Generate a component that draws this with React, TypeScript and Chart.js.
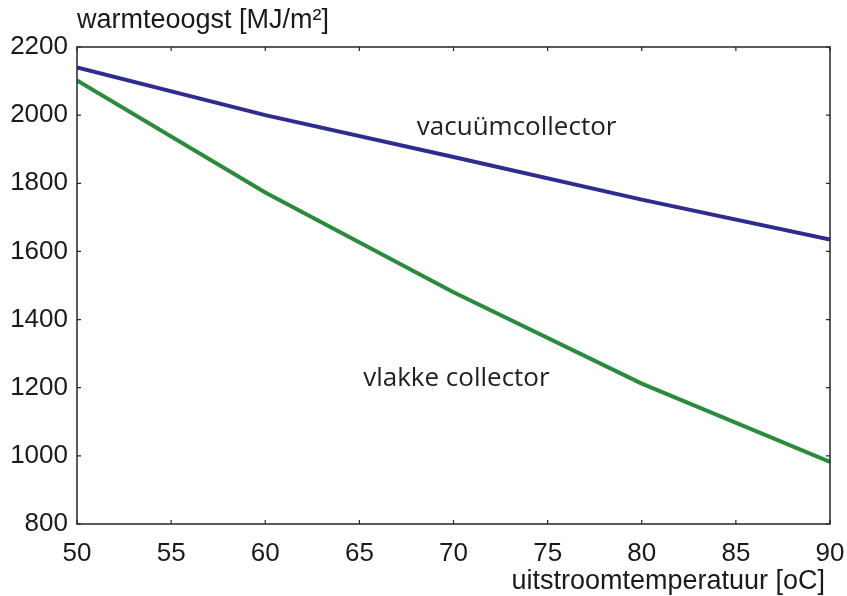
import React, { useEffect, useRef } from "react";
import { Chart, registerables } from "chart.js";

Chart.register(...registerables);

const temperatures = [50, 60, 70, 80, 90];
const vacuumValues = [2140, 2000, 1877, 1752, 1635];
const flatValues = [2102, 1773, 1480, 1212, 982];
const xTicks = [50, 55, 60, 65, 70, 75, 80, 85, 90];
const yTicks = [800, 1000, 1200, 1400, 1600, 1800, 2000, 2200];
const yTitle = "warmteoogst [MJ/m²]";
const xTitle = "uitstroomtemperatuur [oC]";
const seriesLabels = ["vacuümcollector", "vlakke collector"];
const labelAnchors = [
  { x: 68.05, y: 1942 },
  { x: 65.2, y: 1204 },
];

const boxPlugin = {
  id: "boxPlugin",
  afterDraw(chart: any) {
    const { ctx, chartArea } = chart;
    const { left, right, top, bottom } = chartArea;
    const xs = chart.scales.x;
    const ys = chart.scales.y;
    ctx.save();
    ctx.strokeStyle = "#262626";
    ctx.lineWidth = 1.5;
    ctx.strokeRect(left, top, right - left, bottom - top);
    ctx.lineWidth = 1.2;
    const tl = 4;
    ctx.beginPath();
    xTicks.forEach((v) => {
      const px = xs.getPixelForValue(v);
      ctx.moveTo(px, bottom);
      ctx.lineTo(px, bottom - tl);
      ctx.moveTo(px, top);
      ctx.lineTo(px, top + tl);
    });
    yTicks.forEach((v) => {
      const py = ys.getPixelForValue(v);
      ctx.moveTo(left, py);
      ctx.lineTo(left + tl, py);
      ctx.moveTo(right, py);
      ctx.lineTo(right - tl, py);
    });
    ctx.stroke();

    ctx.fillStyle = "#1a1a1a";
    ctx.font = '27px "Liberation Sans", Arial, sans-serif';
    ctx.textBaseline = "alphabetic";
    ctx.textAlign = "left";
    ctx.fillText(yTitle, left, top - 19);
    ctx.textAlign = "right";
    ctx.fillText(xTitle, right - 5, bottom + 65);

    ctx.font = '26px "Open Sans", "Noto Sans", sans-serif';
    ctx.textAlign = "left";
    ctx.fillStyle = "#222222";
    seriesLabels.forEach((t, i) => {
      const a = labelAnchors[i];
      ctx.fillText(t, xs.getPixelForValue(a.x), ys.getPixelForValue(a.y));
    });
    ctx.restore();
  },
};

export default function App() {
  const ref = useRef<HTMLCanvasElement>(null);
  useEffect(() => {
    if (!ref.current) return;
    const chart = new Chart(ref.current, {
      type: "line",
      data: {
        datasets: [
          {
            label: seriesLabels[0],
            data: temperatures.map((t, i) => ({ x: t, y: vacuumValues[i] })),
            borderColor: "#302B8F",
            borderWidth: 4,
            pointRadius: 0,
            tension: 0,
          },
          {
            label: seriesLabels[1],
            data: temperatures.map((t, i) => ({ x: t, y: flatValues[i] })),
            borderColor: "#2A8B3B",
            borderWidth: 4,
            pointRadius: 0,
            tension: 0,
          },
        ],
      },
      options: {
        animation: false,
        responsive: true,
        maintainAspectRatio: false,
        layout: { padding: { left: 0, right: 17, top: 47, bottom: 0 } },
        plugins: { legend: { display: false }, tooltip: { enabled: false } },
        scales: {
          x: {
            type: "linear",
            min: 50,
            max: 90,
            afterBuildTicks: (s: any) => {
              s.ticks = xTicks.map((v) => ({ value: v }));
            },
            afterFit: (s: any) => {
              s.height = 72;
              s.paddingLeft = 0;
              s.paddingRight = 0;
            },
            grid: { display: false, drawTicks: false },
            border: { display: false },
            ticks: {
              padding: 14,
              color: "#1a1a1a",
              maxRotation: 0,
              autoSkip: false,
              callback: (v: any) => String(v),
              font: { family: '"Liberation Sans", Arial, sans-serif', size: 26 },
            },
          },
          y: {
            type: "linear",
            min: 800,
            max: 2200,
            afterBuildTicks: (s: any) => {
              s.ticks = yTicks.map((v) => ({ value: v }));
            },
            afterFit: (s: any) => {
              s.width = 77;
              s.paddingTop = 0;
              s.paddingBottom = 0;
            },
            grid: { display: false, drawTicks: false },
            border: { display: false },
            ticks: {
              padding: 9,
              color: "#1a1a1a",
              autoSkip: false,
              callback: (v: any) => String(v),
              font: { family: '"Liberation Sans", Arial, sans-serif', size: 26 },
            },
          },
        },
      },
      plugins: [boxPlugin],
    });
    return () => chart.destroy();
  }, []);
  return (
    <div style={{ position: "absolute", left: 0, top: 0, width: 847, height: 596, background: "#fff" }}>
      <canvas ref={ref} />
    </div>
  );
}
